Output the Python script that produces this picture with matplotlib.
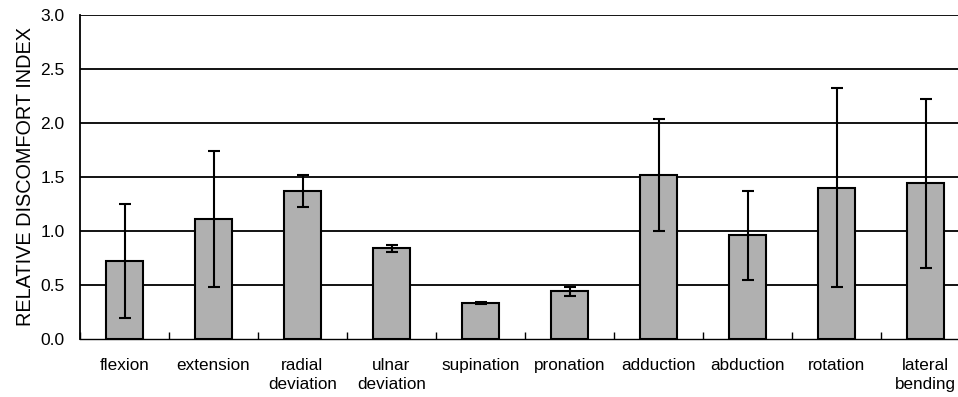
import numpy as np
import matplotlib
matplotlib.use("Agg")
from matplotlib import pyplot as plt

plt.rcParams['font.family'] = ['Liberation Sans', 'DejaVu Sans']

categories = ["flexion", "extension", "radial\ndeviation", "ulnar\ndeviation", "supination",
              "pronation", "adduction", "abduction", "rotation", "lateral\nbending"]
means = [0.72, 1.11, 1.37, 0.84, 0.33, 0.44, 1.52, 0.96, 1.40, 1.44]
errors = [0.53, 0.63, 0.15, 0.03, 0.01, 0.04, 0.52, 0.41, 0.92, 0.78]
yticks = [0.0, 0.5, 1.0, 1.5, 2.0, 2.5, 3.0]

fig = plt.figure(figsize=(9.58, 3.97), dpi=100)
ax = fig.add_axes([80/958, 58/397, 890/958, 324/397])

x = np.arange(len(categories))
ax.bar(x, means, width=0.41, color="#b0b0b0", edgecolor="black", linewidth=1.5, zorder=3)
ax.errorbar(x, means, yerr=errors, fmt="none", ecolor="black", elinewidth=1.5,
            capsize=4.5, capthick=1.5, zorder=4)

# horizontal gridlines like excel
for y in yticks[1:]:
    ax.axhline(y, color="black", linewidth=1.3, zorder=1)

ax.set_xlim(-0.5, len(categories) - 0.5)
ax.set_ylim(0, 3.0)
ax.set_yticks(yticks)
ax.set_yticklabels(["%.1f" % v for v in yticks], fontsize=12.5)
ax.set_xticks(x)
ax.set_xticklabels(categories, fontsize=12.3, linespacing=1.3)
ax.set_xticks(np.arange(len(categories) + 1) - 0.5, minor=True)
ax.tick_params(axis="x", which="major", length=0, pad=14)
ax.tick_params(axis="x", which="minor", direction="in", length=5, width=1)
ax.tick_params(axis="y", length=0, pad=11)

ax.set_ylabel("RELATIVE DISCOMFORT INDEX", fontsize=14.3, labelpad=4)

for s in ["top", "right"]:
    ax.spines[s].set_visible(False)
ax.spines["left"].set_linewidth(1.3)
ax.spines["bottom"].set_linewidth(1.0)

plt.savefig("out.png", dpi=100)
